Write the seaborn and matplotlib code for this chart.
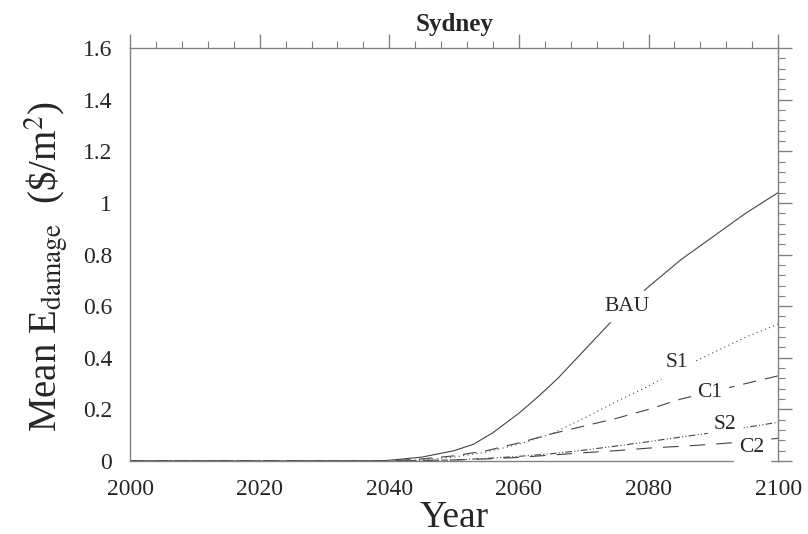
import numpy as np
import pandas as pd
import matplotlib
matplotlib.use("Agg")
import matplotlib.pyplot as plt
from matplotlib.ticker import MultipleLocator, FormatStrFormatter
import seaborn as sns

# values
years_bau = [2000, 2038, 2040, 2045, 2050, 2053, 2056, 2060, 2063, 2066, 2069, 2072, 2075, 2080, 2085, 2090, 2095, 2100]
bau = [0, 0, 0.003, 0.015, 0.04, 0.065, 0.11, 0.185, 0.25, 0.32, 0.40, 0.48, 0.56, 0.675, 0.78, 0.87, 0.96, 1.04]

years = [2000, 2040, 2045, 2050, 2055, 2060, 2065, 2070, 2075, 2080, 2085, 2090, 2095, 2100]
s1 = [0, 0, 0.005, 0.015, 0.035, 0.065, 0.105, 0.165, 0.23, 0.29, 0.36, 0.42, 0.48, 0.53]
c1 = [0, 0, 0.008, 0.02, 0.04, 0.07, 0.105, 0.135, 0.165, 0.2, 0.24, 0.27, 0.3, 0.33]
s2 = [0, 0, 0.002, 0.004, 0.01, 0.018, 0.028, 0.042, 0.058, 0.075, 0.093, 0.11, 0.13, 0.15]
c2 = [0, 0, 0.002, 0.004, 0.008, 0.014, 0.023, 0.032, 0.04, 0.05, 0.057, 0.065, 0.075, 0.088]

labels = ["BAU", "S1", "C1", "S2", "C2"]
label_x = [2076.7, 2084.4, 2089.5, 2091.8, 2096.0]
label_y = [0.60, 0.38, 0.264, 0.140, 0.054]

sns.set_style("white")
plt.rcParams["font.family"] = ["Liberation Serif", "DejaVu Serif"]
plt.rcParams["mathtext.fontset"] = "stix"

fig = plt.figure(figsize=(8.08, 5.34), dpi=100)
ax = fig.add_axes([0.161, 0.1367, 0.802, 0.7733])

line_col = "#444444"
sns.lineplot(x=years_bau, y=bau, ax=ax, color=line_col, linewidth=0.8)
sns.lineplot(x=years, y=s1, ax=ax, color=line_col, linewidth=0.8, linestyle=(0, (1, 3)))
sns.lineplot(x=years, y=c1, ax=ax, color=line_col, linewidth=0.8, linestyle=(0, (12, 8)))
sns.lineplot(x=years, y=s2, ax=ax, color=line_col, linewidth=0.8, linestyle=(0, (6, 2, 1, 2, 1, 2)))
sns.lineplot(x=years, y=c2, ax=ax, color=line_col, linewidth=0.8, linestyle=(0, (14, 10)))

for lab, lx, ly in zip(labels, label_x, label_y):
    ax.text(lx, ly, lab, fontsize=15.5, ha="center", va="center",
            backgroundcolor="white", zorder=5)

ax.set_xlim(2000, 2100)
ax.set_ylim(0, 1.6)
ax.xaxis.set_major_locator(MultipleLocator(20))
ax.xaxis.set_minor_locator(MultipleLocator(4))
ax.yaxis.set_major_locator(MultipleLocator(0.2))
ax.yaxis.set_minor_locator(MultipleLocator(0.04))
ax.yaxis.set_major_formatter(FormatStrFormatter("%g"))

for sp in ax.spines.values():
    sp.set_color("#808080")
    sp.set_linewidth(1.0)

ax.tick_params(which="both", direction="out", color="#808080",
               top=True, right=True, labelsize=17, pad=3)
ax.tick_params(which="major", length=10, width=1.0)
ax.tick_params(which="minor", length=5, width=0.8)

ax.set_xlabel("Year", fontsize=27, labelpad=0)
ylab = ax.set_ylabel(r"Mean E$_{\mathrm{damage}}$  (\$/m$^2$)", fontsize=28, labelpad=8)
ylab.set_y(0.47)
ax.set_title("Sydney", fontsize=18, fontweight="bold", pad=12)

fig.savefig("out.png", dpi=100)
